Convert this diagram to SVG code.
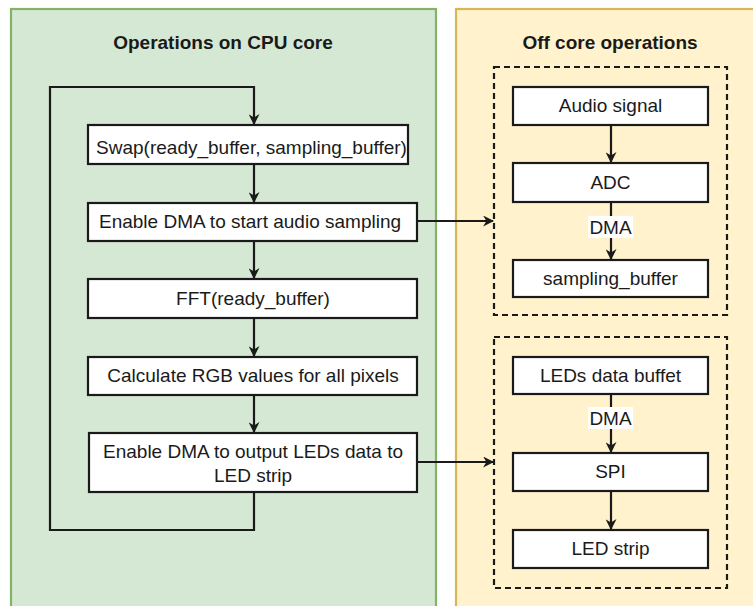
<svg xmlns="http://www.w3.org/2000/svg" width="753" height="606" viewBox="0 0 753 606">
<style>
.t{font-family:"Liberation Sans",Arial,sans-serif;font-size:19px;fill:#1a1a1a;text-anchor:middle}
.h{font-weight:bold}
.box{fill:#ffffff;stroke:#1a1a1a;stroke-width:2.2}
.dash{fill:none;stroke:#1a1a1a;stroke-width:2.2;stroke-dasharray:6 4}
.ln{fill:none;stroke:#1a1a1a;stroke-width:2.2}
</style>
<defs>
<marker id="ah" viewBox="0 0 10 10" refX="9" refY="5" markerWidth="5" markerHeight="5" markerUnits="strokeWidth" orient="auto">
<path d="M0,0 L10,5 L0,10 L3,5 z" fill="#1a1a1a"/>
</marker>
</defs>
<rect width="753" height="606" fill="#ffffff"/>
<g id="panel-cpu">
<rect x="11" y="9" width="425" height="610" fill="#d5e8d4" stroke="#82b366" stroke-width="2.2"/>
<text class="t h" x="223" y="49">Operations on CPU core</text>
</g>
<g id="panel-off">
<rect x="456" y="9" width="310" height="610" fill="#fff2cc" stroke="#d6b656" stroke-width="2.2"/>
<text class="t h" x="610" y="49">Off core operations</text>
</g>
<g id="group-audio"><rect class="dash" x="494" y="67" width="233" height="248"/></g>
<g id="group-led"><rect class="dash" x="494" y="337" width="233" height="251"/></g>
<g id="connectors">
<path class="ln" d="M254,492 V530 H50 V87 H254 V124" marker-end="url(#ah)"/>
<path class="ln" d="M254,164 V202" marker-end="url(#ah)"/>
<path class="ln" d="M254,241 V278" marker-end="url(#ah)"/>
<path class="ln" d="M254,318 V356" marker-end="url(#ah)"/>
<path class="ln" d="M254,395 V432" marker-end="url(#ah)"/>
<path class="ln" d="M417,221 H493" marker-end="url(#ah)"/>
<path class="ln" d="M417,462 H493" marker-end="url(#ah)"/>
<path class="ln" d="M611,125 V162" marker-end="url(#ah)"/>
<path class="ln" d="M611,202 V259" marker-end="url(#ah)"/>
<path class="ln" d="M611,394 V452" marker-end="url(#ah)"/>
<path class="ln" d="M611,491 V529" marker-end="url(#ah)"/>
<rect x="588" y="216" width="45" height="22" fill="#ffffff"/>
<text class="t" x="610.5" y="234">DMA</text>
<rect x="588" y="407" width="45" height="22" fill="#ffffff"/>
<text class="t" x="610.5" y="425">DMA</text>
</g>
<g id="swap"><rect class="box" x="88" y="125" width="320" height="39"/><text class="t" x="251.5" y="154">Swap(ready_buffer, sampling_buffer)</text></g>
<g id="enable-sampling"><rect class="box" x="88" y="203" width="329" height="38"/><text class="t" x="250" y="228">Enable DMA to start audio sampling</text></g>
<g id="fft"><rect class="box" x="88" y="279" width="329" height="39"/><text class="t" x="253" y="305">FFT(ready_buffer)</text></g>
<g id="calc-rgb"><rect class="box" x="88" y="357" width="329" height="38"/><text class="t" x="253" y="382">Calculate RGB values for all pixels</text></g>
<g id="enable-output"><rect class="box" x="89" y="433" width="328" height="59"/><text class="t" x="253" y="458">Enable DMA to output LEDs data to</text><text class="t" x="253" y="482">LED strip</text></g>
<g id="audio-signal"><rect class="box" x="513" y="87" width="195" height="38"/><text class="t" x="610.5" y="112">Audio signal</text></g>
<g id="adc"><rect class="box" x="513" y="163" width="195" height="39"/><text class="t" x="610.5" y="189">ADC</text></g>
<g id="sampling-buffer"><rect class="box" x="513" y="260" width="195" height="37"/><text class="t" x="610.5" y="285">sampling_buffer</text></g>
<g id="leds-buffet"><rect class="box" x="513" y="357" width="195" height="37"/><text class="t" x="610.5" y="382">LEDs data buffet</text></g>
<g id="spi"><rect class="box" x="513" y="453" width="195" height="38"/><text class="t" x="610.5" y="478">SPI</text></g>
<g id="led-strip"><rect class="box" x="513" y="530" width="195" height="38"/><text class="t" x="610.5" y="555">LED strip</text></g>
</svg>
